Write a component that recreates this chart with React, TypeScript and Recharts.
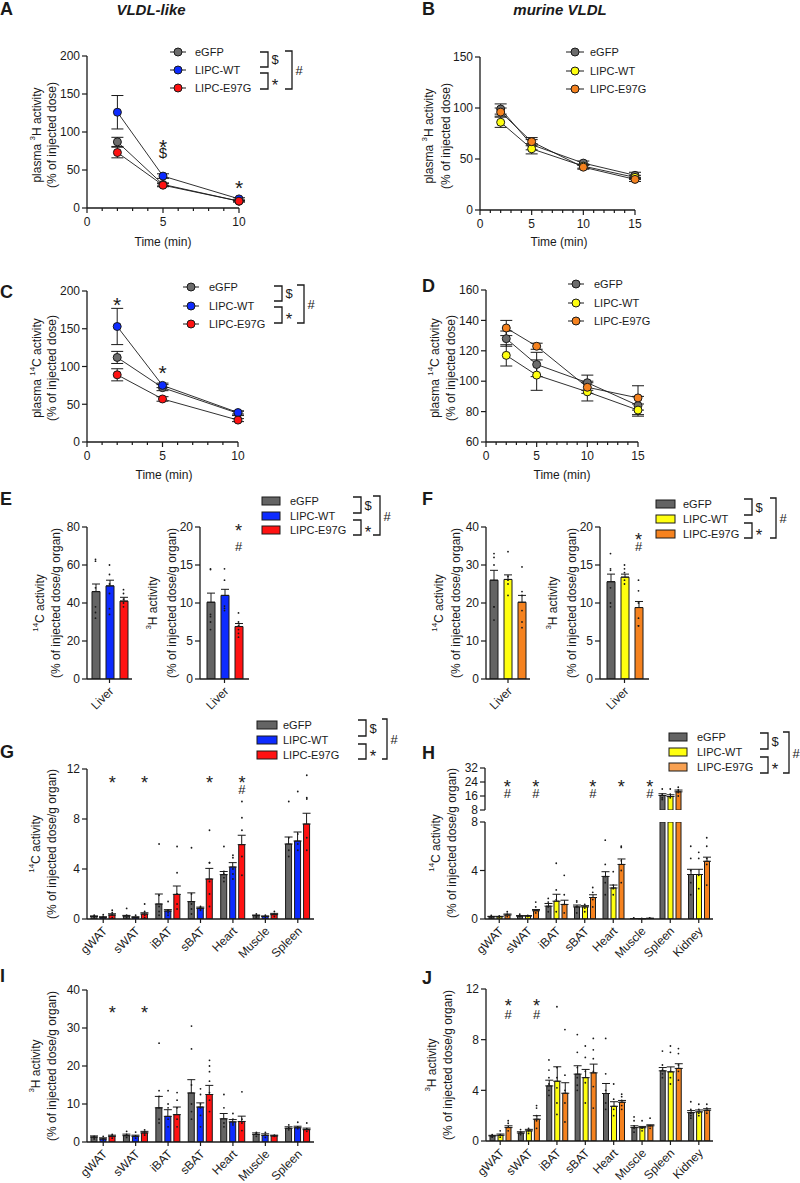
import React from 'react';
import { LineChart, Line, ComposedChart, Bar, Scatter, XAxis, YAxis, ErrorBar, ReferenceDot } from 'recharts';

const FONT = '"Liberation Sans", Arial, Helvetica, sans-serif';
const INK = '#1a1a1a';

const GREY = '#646464';
const GREY_MARK = '#6c6c6c';
const BLUE = '#0d2bff';
const RED = '#ff1212';
const YELLOW = '#ffff10';
const ORANGE = '#f5821f';
const ORANGE_KEY = '#f8a152';

const groups = ['eGFP', 'LIPC-WT', 'LIPC-E97G'];

// A - VLDL-like, plasma 3H
const timesA = [2, 5, 10];
const aEGFP = [87, 31, 9];
const aEGFPErr = [6, 2, 1];
const aWT = [126, 42, 12];
const aWTErr = [22, 3, 1.5];
const aE97G = [73, 30, 9];
const aE97GErr = [7, 2, 1];

// B - murine VLDL, plasma 3H
const timesB = [2, 5, 10, 15];
const bEGFP = [99, 64, 46, 34];
const bEGFPErr = [5, 5, 2, 3];
const bWT = [86, 60, 43, 32];
const bWTErr = [5, 5, 2, 2];
const bE97G = [96, 67, 42, 30];
const bE97GErr = [4, 4, 2, 2];

// C - VLDL-like, plasma 14C
const cEGFP = [112, 72, 38];
const cEGFPErr = [8, 4, 3];
const cWT = [153, 75, 39];
const cWTErr = [24, 3, 2];
const cE97G = [89, 57, 29];
const cE97GErr = [8, 3, 2];

// D - murine VLDL, plasma 14C
const dEGFP = [128, 111, 99, 84];
const dEGFPErr = [5, 8, 5, 6];
const dWT = [117, 104, 93, 81];
const dWTErr = [7, 10, 6, 4];
const dE97G = [135, 123, 96, 89];
const dE97GErr = [5, 2, 4, 8];

// E / F - liver uptake (mean, sem, individual animals)
const liver = ['Liver'];
const e14C = [46, 49, 41];
const e14CErr = [4, 3, 2];
const e14CPts = [[63, 62, 48, 38, 35, 32], [60, 55, 50, 45, 37, 34], [47, 45, 42, 40, 38]];
const e3H = [10.1, 11.0, 6.9];
const e3HErr = [1.2, 0.8, 0.4];
const e3HPts = [[14.5, 14.4, 8.5, 8.2, 7.5, 6.5], [14.5, 13, 9.6, 9.3, 9.0], [8.7, 7.5, 7, 6.5, 6, 5.5]];
const f14C = [26, 26.2, 20.2];
const f14CErr = [2.6, 1.2, 1.8];
const f14CPts = [[33, 32, 30, 19, 19, 15.5], [33.5, 27, 26, 25, 22], [29.5, 23, 22, 18, 15, 13.5]];
const f3H = [12.8, 13.4, 9.4];
const f3HErr = [1.0, 0.4, 0.8];
const f3HPts = [[16.5, 14.5, 14.3, 12, 10, 9.5], [15, 14.5, 14, 13, 12.5], [13, 11.6, 10, 8, 7, 7]];

// G / I - VLDL-like organs
const organs7 = ['gWAT', 'sWAT', 'iBAT', 'sBAT', 'Heart', 'Muscle', 'Spleen'];
const gEGFP = [0.2, 0.24, 1.2, 1.39, 3.55, 0.27, 6.0];
const gEGFPErr = [0.05, 0.05, 0.8, 0.7, 0.25, 0.05, 0.56];
const gEGFPPts = [[0.3, 0.2, 0.1], [0.85, 0.3, 0.1], [6.0, 1.9, 1.0, 0.6, 0.3], [5.7, 2.0, 1.2, 0.8, 0.4], [5.8, 3.8, 3.6, 3.3, 3.0], [0.4, 0.2, 0.1], [9.4, 6.5, 5.5, 5.0]];
const gWT = [0.13, 0.13, 0.64, 0.85, 4.16, 0.2, 6.24];
const gWTErr = [0.05, 0.05, 0.11, 0.1, 0.35, 0.05, 0.72];
const gWTPts = [[0.35, 0.2, 0.05], [0.3, 0.1], [1.4, 0.7, 0.5, 0.3], [1.0, 0.9, 0.8, 0.7], [5.1, 4.9, 4.0, 3.6, 3.2], [0.3, 0.1], [10.2, 6.8, 6.0, 5.5]];
const gE97G = [0.32, 0.4, 1.97, 3.2, 5.95, 0.35, 7.6];
const gE97GErr = [0.1, 0.1, 0.67, 0.85, 0.75, 0.1, 0.86];
const gE97GPts = [[0.7, 0.5, 0.3, 0.1], [1.2, 0.6, 0.3, 0.1], [5.8, 3.7, 2.0, 1.2, 0.8], [7.1, 4.5, 4.5, 3.0, 2.0, 1.0], [9.4, 8.1, 7.1, 5.0, 3.5], [0.6, 0.4, 0.2], [11.5, 9.7, 9.6, 6.5, 5.5]];

const iEGFP = [1.3, 1.67, 9.0, 12.9, 6.1, 2.0, 3.6];
const iEGFPErr = [0.3, 0.4, 3.0, 3.5, 1.4, 0.4, 0.4];
const iEGFPPts = [[1.5, 1.2, 0.8], [2.8, 2.0, 1.2], [26, 13.5, 12, 9, 6, 5], [30.5, 24.5, 15, 10, 8, 6], [12.5, 9, 5, 4], [2.5, 2.2, 1.5], [4.5, 3.8, 3.2]];
const iWT = [0.8, 1.5, 6.75, 9.2, 5.3, 1.75, 3.75];
const iWTErr = [0.3, 0.3, 1.75, 1.1, 0.6, 0.4, 0.4];
const iWTPts = [[1.5, 0.8, 0.5], [2.6, 1.6, 1.0], [13.5, 10, 9, 6, 4], [14, 12.5, 10, 9, 7, 4], [7.5, 6, 5, 4.5], [2.5, 1.8, 1.2], [5.2, 4, 3.5]];
const iE97G = [1.5, 2.4, 7.2, 12.5, 5.4, 1.6, 3.25];
const iE97GErr = [0.3, 0.4, 2.0, 2.4, 1.4, 0.2, 0.4];
const iE97GPts = [[2.0, 1.5, 1.0], [3.2, 2.8, 2.2, 1.8], [13, 11, 9, 6, 4], [21.5, 20, 18.5, 16, 13, 11, 8], [13.2, 6, 5, 3], [1.8, 1.5], [5, 3.5, 2.8]];

// H / J - murine VLDL organs
const organs8 = ['gWAT', 'sWAT', 'iBAT', 'sBAT', 'Heart', 'Muscle', 'Spleen', 'Kidney'];
const hEGFP = [0.19, 0.24, 1.06, 1.0, 3.51, 0.03, 16.3, 3.67];
const hEGFPErr = [0.03, 0.04, 0.22, 0.15, 0.39, 0.01, 1.0, 0.43];
const hEGFPPts = [[0.3, 0.2, 0.1], [0.4, 0.2], [1.7, 1.4, 1.0, 0.6], [1.5, 1.4, 1.0, 0.5], [6.5, 4.5, 3.5, 3.0, 2.0], [0.1, 0.05], [20, 17, 15, 14], [6.0, 5.0, 4.0, 3.0, 2.0]];
const hWT = [0.19, 0.24, 1.47, 1.0, 2.56, 0.02, 15.7, 3.67];
const hWTErr = [0.03, 0.04, 0.57, 0.1, 0.24, 0.01, 1.0, 0.43];
const hWTPts = [[0.25, 0.15], [0.3, 0.2], [4.6, 2.4, 1.6, 0.6], [1.2, 0.9, 0.6], [3.9, 2.8, 2.5, 2.0], [0.05], [20, 17, 15], [5.5, 5.0, 3.6, 2.5]];
const hE97G = [0.33, 0.68, 1.2, 1.77, 4.5, 0.05, 18.4, 4.76];
const hE97GErr = [0.08, 0.1, 0.35, 0.23, 0.45, 0.01, 1.0, 0.34];
const hE97GPts = [[0.6, 0.4, 0.2], [1.4, 1.0, 0.5], [3.6, 2.0, 1.2, 0.5], [2.6, 2.2, 1.6, 1.0], [6.0, 5.9, 4.8, 4.0, 3.0], [0.1], [21, 19.5, 18, 16], [6.7, 6.0, 5.0, 4.5, 2.8]];
const H_BREAK = 8;

const jEGFP = [0.4, 0.63, 4.35, 5.28, 3.75, 1.06, 5.54, 2.24];
const jEGFPErr = [0.05, 0.1, 0.45, 0.66, 0.79, 0.14, 0.26, 0.16];
const jEGFPPts = [[0.5, 0.4, 0.3], [0.9, 0.7, 0.5], [6.4, 5.6, 5.0, 4.5, 4.0, 3.6], [8.4, 7.0, 5.8, 5.0, 4.4, 4.0], [8.1, 5.3, 4.0, 3.0, 2.5], [1.9, 1.6, 1.2, 1.0, 0.7], [7.1, 6.0, 5.6, 5.3, 5.0], [3.1, 2.5, 2.2, 2.0, 1.8]];
const jWT = [0.45, 0.8, 4.72, 5.0, 2.74, 1.05, 5.46, 2.3];
const jWTErr = [0.1, 0.12, 1.14, 0.65, 0.36, 0.1, 0.39, 0.15];
const jWTPts = [[0.8, 0.5, 0.3], [1.0, 0.8, 0.6], [10.6, 5.8, 5.0, 4.2, 3.0, 2.1], [7.5, 6.6, 5.5, 4.6, 3.0], [4.5, 3.3, 2.5, 2.0], [1.6, 1.0, 0.8], [7.5, 7.0, 5.5, 5.0, 4.5], [2.9, 2.5, 2.2, 2.0]];
const jE97G = [1.06, 1.72, 3.77, 5.38, 3.06, 1.2, 5.73, 2.43];
const jE97GErr = [0.14, 0.28, 0.83, 0.69, 0.14, 0.08, 0.37, 0.12];
const jE97GPts = [[1.6, 1.4, 1.1, 0.8], [2.8, 2.6, 2.0, 1.6, 1.0], [8.8, 5.2, 4.0, 3.0, 1.5], [8.1, 7.2, 6.5, 5.5, 4.3, 2.6], [3.7, 3.5, 3.2, 2.8, 2.5], [1.8, 1.2, 1.0], [7.3, 6.9, 6.0, 5.5, 4.8], [2.9, 2.6, 2.4, 2.2]];

// significance marks (category / time, level)
const aMarks = [{ x: 5, y: 87, text: '*' }, { x: 5, y: 73, text: '$' }, { x: 10, y: 34, text: '*' }];
const cMarks = [{ x: 2, y: 189, text: '*' }, { x: 5, y: 99, text: '*' }];
const eMarks = [{ x: 'Liver', y: 20.1, text: '*' }, { x: 'Liver', y: 17.5, text: '#' }];
const fMarks = [{ x: 'Liver', y: 18.9, text: '*' }, { x: 'Liver', y: 17.4, text: '#' }];
const gStar = ['gWAT', 'sWAT', 'sBAT', 'Heart'];
const gHash = ['Heart'];
const hStar = ['gWAT', 'sWAT', 'sBAT', 'Heart', 'Muscle'];
const hHash = ['gWAT', 'sWAT', 'sBAT', 'Muscle'];
const iStar = ['gWAT', 'sWAT'];
const jStar = ['gWAT', 'sWAT'];
const jHash = ['gWAT', 'sWAT'];

const AXIS = { stroke: INK, strokeWidth: 1.3 };
const TICK = { stroke: INK, strokeWidth: 1.2 };
const TICK_TEXT = { fill: INK, fontSize: 12, fontFamily: FONT };

const SYM_SHIFT: Record<string, number> = { '*': 0.6, '#': 0.36, '$': 0.36 };

type Mark = { x: number | string; y: number; text: string };
type Series = { color: string; values: (number | null)[]; errors: (number | null)[]; pts?: number[][] };

const SymText = ({ cx, cy, text, size }: { cx: number; cy: number; text: string; size: number }) => {
  const fs = text === '*' ? size * 1.4 : size;
  return (
    <text x={cx} y={cy + SYM_SHIFT[text] * fs} textAnchor="middle" fontSize={fs} fontFamily={FONT} fill={INK}>
      {text}
    </text>
  );
};

const symDot = (m: Mark, dx: number, size: number, key: number) => (
  <ReferenceDot
    key={'m' + key}
    x={m.x}
    y={m.y}
    r={0}
    ifOverflow="visible"
    shape={(p: any) => <SymText cx={p.cx + dx} cy={p.cy} text={m.text} size={size} />}
  />
);

const TimeTick = (p: any) => {
  const major = p.majors.includes(p.payload.value);
  return (
    <g>
      <line x1={p.x} x2={p.x} y1={p.y} y2={p.y + (major ? 5 : 3)} stroke={INK} strokeWidth={1.2} />
      {major && (
        <text x={p.x} y={p.y + 14} textAnchor="middle" dominantBaseline="central" fontSize={12} fontFamily={FONT} fill={INK}>
          {p.payload.value}
        </text>
      )}
    </g>
  );
};

const OrganTick = (p: any) => (
  <text
    x={p.x + 2}
    y={p.y + 4}
    transform={`rotate(-45 ${p.x + 2} ${p.y + 4})`}
    textAnchor="end"
    dominantBaseline="central"
    fontSize={12}
    fontFamily={FONT}
    fill={INK}
  >
    {p.payload.value}
  </text>
);

function LinePanel(props: {
  left: number; top: number; w: number; h: number; times: number[]; xMax: number; majors: number[];
  yDomain: [number, number]; yTicks: number[]; series: Series[]; marks?: Mark[];
}) {
  const { left, top, w, h, times, xMax, majors, yDomain, yTicks, series, marks = [] } = props;
  const padL = 40, padT = 16, padR = 12, padB = 24;
  const rows = times.map((t, i) => {
    const row: Record<string, any> = { t };
    series.forEach((s, k) => {
      row['v' + k] = s.values[i];
      row['e' + k] = s.errors[i];
    });
    return row;
  });
  const xTicks = Array.from({ length: xMax + 1 }, (_, i) => i);
  return (
    <div style={{ position: 'absolute', left: left - padL, top: top - padT }}>
      <LineChart width={w + padL + padR} height={h + padT + padB} data={rows} margin={{ top: padT, right: padR, bottom: 0, left: 0 }}>
        <XAxis type="number" dataKey="t" domain={[0, xMax]} ticks={xTicks} interval={0} height={padB}
          tickSize={0} tickMargin={0} tickLine={false} axisLine={AXIS} tick={(p: any) => <TimeTick {...p} majors={majors} />} />
        <YAxis type="number" domain={yDomain} ticks={yTicks} interval={0} width={padL} tickSize={5} tickMargin={2}
          axisLine={AXIS} tickLine={TICK} tick={TICK_TEXT} />
        {series.map((s, k) => (
          <Line key={k} dataKey={'v' + k} stroke={INK} strokeWidth={0.9} isAnimationActive={false} activeDot={false}
            dot={{ r: 4, fill: s.color, stroke: INK, strokeWidth: 1 }}>
            <ErrorBar dataKey={'e' + k} direction="y" width={6} stroke={INK} strokeWidth={1} />
          </Line>
        ))}
        {marks.map((m, i) => symDot(m, 0, 15, i))}
      </LineChart>
    </div>
  );
}

function BarPanel(props: {
  left: number; top: number; w: number; h: number; cats: string[]; series: Series[];
  yDomain: [number, number]; yTicks: number[]; barSize: number; barGap: number;
  marks?: Mark[]; markDx?: number; showX?: boolean;
}) {
  const { left, top, w, h, cats, series, yDomain, yTicks, barSize, barGap, marks = [], markDx = 0, showX = true } = props;
  const padL = 40, padT = 14, padR = 6;
  const padB = showX ? 52 : 0;
  const padBottom = showX ? 0 : 8;
  const step = barSize + barGap;
  const rows = cats.map((c, i) => {
    const row: Record<string, any> = { cat: c };
    series.forEach((s, k) => {
      row['v' + k] = s.values[i];
      const e = s.errors[i];
      row['e' + k] = e == null ? null : [0, e];
    });
    return row;
  });
  return (
    <div style={{ position: 'absolute', left: left - padL, top: top - padT }}>
      <ComposedChart width={w + padL + padR} height={h + padT + padB + padBottom} data={rows} barSize={barSize} barGap={barGap}
        margin={{ top: padT, right: padR, bottom: padBottom, left: 0 }}>
        <XAxis dataKey="cat" type="category" allowDuplicatedCategory={false} hide={!showX} height={padB} interval={0}
          tickSize={4} tickMargin={2} axisLine={AXIS} tickLine={TICK} tick={(p: any) => <OrganTick {...p} />} />
        <YAxis type="number" domain={yDomain} ticks={yTicks} interval={0} allowDataOverflow width={padL}
          tickSize={5} tickMargin={2} axisLine={AXIS} tickLine={TICK} tick={TICK_TEXT} />
        {series.map((s, k) => (
          <Bar key={k} dataKey={'v' + k} fill={s.color} stroke={INK} strokeWidth={1} isAnimationActive={false}>
            <ErrorBar dataKey={'e' + k} direction="y" width={4} stroke={INK} strokeWidth={1} />
          </Bar>
        ))}
        {series.map((s, k) => {
          const dots = (s.pts || []).flatMap((list, i) =>
            list.filter((v) => v >= yDomain[0] && v <= yDomain[1]).map((v) => ({ cat: cats[i], p: v })));
          if (!dots.length) return null;
          const dx = (k - (series.length - 1) / 2) * step;
          return (
            <Scatter key={'s' + k} data={dots} dataKey="p" isAnimationActive={false}
              shape={(p: any) => <circle cx={p.cx + dx} cy={p.cy} r={0.9} fill={INK} />} />
          );
        })}
        {marks.map((m, i) => symDot(m, markDx, 13, i))}
      </ComposedChart>
    </div>
  );
}

const VText = ({ x, y, pre = '', sup, post }: { x: number; y: number; pre?: string; sup?: string; post: string }) => (
  <text x={x} y={y} transform={`rotate(-90 ${x} ${y})`} textAnchor="middle" dominantBaseline="central"
    fontSize={12} fontFamily={FONT} fill={INK}>
    {pre}
    {sup && <tspan fontSize={8} dy={-5}>{sup}</tspan>}
    {sup ? <tspan dy={5}>{post}</tspan> : post}
  </text>
);

const T = ({ x, y, children, size = 11, anchor = 'start', weight = 'normal', italic = false }: any) => (
  <text x={x} y={y} textAnchor={anchor} dominantBaseline="central" fontSize={size} fontFamily={FONT}
    fontWeight={weight} fontStyle={italic ? 'italic' : 'normal'} fill={INK}>
    {children}
  </text>
);

const LineKey = ({ x0, x1, cx, tx, ys, colors }: { x0: number; x1: number; cx: number; tx: number; ys: number[]; colors: string[] }) => (
  <g>
    {ys.map((y, i) => (
      <g key={i}>
        <line x1={x0} x2={x1} y1={y} y2={y} stroke={INK} strokeWidth={1} />
        <circle cx={cx} cy={y} r={4} fill={colors[i]} stroke={INK} strokeWidth={1} />
        <T x={tx} y={y}>{groups[i]}</T>
      </g>
    ))}
  </g>
);

const BarKey = ({ x, w, tx, ys, colors }: { x: number; w: number; tx: number; ys: number[]; colors: string[] }) => (
  <g>
    {ys.map((y, i) => (
      <g key={i}>
        <rect x={x} y={y - 4} width={w} height={8} fill={colors[i]} stroke={INK} strokeWidth={1} />
        <T x={tx} y={y}>{groups[i]}</T>
      </g>
    ))}
  </g>
);

const Brackets = ({ xl, xv, y1, y2, y3, y4, ol, ov }: { xl: number; xv: number; y1: number; y2: number; y3: number; y4: number; ol: number; ov: number }) => (
  <g fill="none" stroke={INK} strokeWidth={1.3}>
    <path d={`M${xl} ${y1}H${xv}V${y2}H${xl}`} />
    <path d={`M${xl} ${y3}H${xv}V${y4}H${xl}`} />
    <path d={`M${ol} ${y1 - 1}H${ov}V${y4}H${ol}`} />
    <g stroke="none">
      <SymText cx={xv + 7} cy={(y1 + y2) / 2} text="$" size={13} />
      <SymText cx={xv + 7} cy={(y3 + y4) / 2} text="*" size={12} />
      <SymText cx={ov + 7} cy={(y1 + y4) / 2} text="#" size={13} />
    </g>
  </g>
);

const onCats = (cats: string[], y: number, text: string): Mark[] => cats.map((c) => ({ x: c, y, text }));

export default function App() {
  const lineA: Series[] = [
    { color: GREY_MARK, values: aEGFP, errors: aEGFPErr },
    { color: BLUE, values: aWT, errors: aWTErr },
    { color: RED, values: aE97G, errors: aE97GErr },
  ];
  const lineB: Series[] = [
    { color: GREY_MARK, values: bEGFP, errors: bEGFPErr },
    { color: YELLOW, values: bWT, errors: bWTErr },
    { color: ORANGE, values: bE97G, errors: bE97GErr },
  ];
  const lineC: Series[] = [
    { color: GREY_MARK, values: cEGFP, errors: cEGFPErr },
    { color: BLUE, values: cWT, errors: cWTErr },
    { color: RED, values: cE97G, errors: cE97GErr },
  ];
  const lineD: Series[] = [
    { color: GREY_MARK, values: dEGFP, errors: dEGFPErr },
    { color: YELLOW, values: dWT, errors: dWTErr },
    { color: ORANGE, values: dE97G, errors: dE97GErr },
  ];
  const each = (vals: number[], errs: number[], pts: number[][], colors: string[]): Series[] =>
    colors.map((c, k) => ({ color: c, values: [vals[k]], errors: [errs[k]], pts: [pts[k]] }));
  const hLower = (vals: number[], errs: number[], pts: number[][], color: string): Series => ({
    color,
    values: vals.map((v) => Math.min(v, H_BREAK)),
    errors: vals.map((v, i) => (v > H_BREAK ? null : errs[i])),
    pts: pts.map((list, i) => (vals[i] > H_BREAK ? [] : list)),
  });
  const hUpper = (vals: number[], errs: number[], pts: number[][], color: string): Series => ({
    color,
    values: vals.map((v) => (v > H_BREAK ? v : null)),
    errors: vals.map((v, i) => (v > H_BREAK ? errs[i] : null)),
    pts: pts.map((list, i) => (vals[i] > H_BREAK ? list : [])),
  });

  const blueSet = [GREY, BLUE, RED];
  const yellowSet = [GREY, YELLOW, ORANGE];

  return (
    <div style={{ position: 'absolute', left: 0, top: 0, width: 800, height: 1183, background: '#fff', fontFamily: FONT }}>
      <LinePanel left={87} top={56} w={152} h={152} times={timesA} xMax={10} majors={[0, 5, 10]}
        yDomain={[0, 200]} yTicks={[0, 50, 100, 150, 200]} series={lineA} marks={aMarks} />
      <LinePanel left={480} top={57} w={155} h={153} times={timesB} xMax={15} majors={[0, 5, 10, 15]}
        yDomain={[0, 150]} yTicks={[0, 50, 100, 150]} series={lineB} />
      <LinePanel left={87} top={291} w={151} h={151} times={timesA} xMax={10} majors={[0, 5, 10]}
        yDomain={[0, 200]} yTicks={[0, 50, 100, 150, 200]} series={lineC} marks={cMarks} />
      <LinePanel left={486} top={290} w={152} h={152} times={timesB} xMax={15} majors={[0, 5, 10, 15]}
        yDomain={[60, 160]} yTicks={[60, 80, 100, 120, 140, 160]} series={lineD} />

      <BarPanel left={87} top={527} w={45} h={152} cats={liver} series={each(e14C, e14CErr, e14CPts, blueSet)}
        yDomain={[0, 80]} yTicks={[0, 20, 40, 60, 80]} barSize={8} barGap={6} />
      <BarPanel left={200} top={527} w={49} h={152} cats={liver} series={each(e3H, e3HErr, e3HPts, blueSet)}
        yDomain={[0, 20]} yTicks={[0, 5, 10, 15, 20]} barSize={8} barGap={6} marks={eMarks} markDx={14} />
      <BarPanel left={486} top={527} w={44} h={152} cats={liver} series={each(f14C, f14CErr, f14CPts, yellowSet)}
        yDomain={[0, 40]} yTicks={[0, 10, 20, 30, 40]} barSize={8} barGap={6} />
      <BarPanel left={600} top={527} w={49} h={152} cats={liver} series={each(f3H, f3HErr, f3HPts, yellowSet)}
        yDomain={[0, 20]} yTicks={[0, 5, 10, 15, 20]} barSize={8} barGap={6} marks={fMarks} markDx={14} />

      <BarPanel left={87} top={769} w={227} h={150} cats={organs7}
        series={[
          { color: GREY, values: gEGFP, errors: gEGFPErr, pts: gEGFPPts },
          { color: BLUE, values: gWT, errors: gWTErr, pts: gWTPts },
          { color: RED, values: gE97G, errors: gE97GErr, pts: gE97GPts },
        ]}
        yDomain={[0, 12]} yTicks={[0, 4, 8, 12]} barSize={6} barGap={3} markDx={9}
        marks={[...onCats(gStar, 11.3, '*'), ...onCats(gHash, 10.4, '#')]} />

      <BarPanel left={485} top={768} w={228} h={42} cats={organs8} showX={false}
        series={[hUpper(hEGFP, hEGFPErr, hEGFPPts, GREY), hUpper(hWT, hWTErr, hWTPts, YELLOW), hUpper(hE97G, hE97GErr, hE97GPts, ORANGE)]}
        yDomain={[8, 32]} yTicks={[8, 16, 24, 32]} barSize={5} barGap={3} markDx={8}
        marks={[...onCats(hStar, 24, '*'), ...onCats(hHash, 17.5, '#')]} />
      <BarPanel left={485} top={822} w={228} h={97} cats={organs8}
        series={[hLower(hEGFP, hEGFPErr, hEGFPPts, GREY), hLower(hWT, hWTErr, hWTPts, YELLOW), hLower(hE97G, hE97GErr, hE97GPts, ORANGE)]}
        yDomain={[0, H_BREAK]} yTicks={[0, 4, 8]} barSize={5} barGap={3} />

      <BarPanel left={87} top={990} w={227} h={152} cats={organs7}
        series={[
          { color: GREY, values: iEGFP, errors: iEGFPErr, pts: iEGFPPts },
          { color: BLUE, values: iWT, errors: iWTErr, pts: iWTPts },
          { color: RED, values: iE97G, errors: iE97GErr, pts: iE97GPts },
        ]}
        yDomain={[0, 40]} yTicks={[0, 10, 20, 30, 40]} barSize={6} barGap={3} markDx={9}
        marks={onCats(iStar, 35.3, '*')} />
      <BarPanel left={486} top={989} w={227} h={152} cats={organs8}
        series={[
          { color: GREY, values: jEGFP, errors: jEGFPErr, pts: jEGFPPts },
          { color: YELLOW, values: jWT, errors: jWTErr, pts: jWTPts },
          { color: ORANGE, values: jE97G, errors: jE97GErr, pts: jE97GPts },
        ]}
        yDomain={[0, 12]} yTicks={[0, 4, 8, 12]} barSize={5} barGap={3} markDx={8}
        marks={[...onCats(jStar, 11.05, '*'), ...onCats(jHash, 10.0, '#')]} />

      <svg width={800} height={1183} style={{ position: 'absolute', left: 0, top: 0, pointerEvents: 'none' }}>
        {/* panel letters and titles */}
        <T x={0} y={9} size={18} weight="bold">A</T>
        <T x={151} y={9} size={15} weight="bold" italic anchor="middle">VLDL-like</T>
        <T x={422} y={9} size={18} weight="bold">B</T>
        <T x={560} y={9} size={15} weight="bold" italic anchor="middle">murine VLDL</T>
        <T x={0} y={292} size={18} weight="bold">C</T>
        <T x={422} y={286} size={18} weight="bold">D</T>
        <T x={0} y={499} size={18} weight="bold">E</T>
        <T x={422} y={499} size={18} weight="bold">F</T>
        <T x={0} y={752} size={18} weight="bold">G</T>
        <T x={422} y={753} size={18} weight="bold">H</T>
        <T x={0} y={976} size={18} weight="bold">I</T>
        <T x={422} y={978} size={18} weight="bold">J</T>

        {/* time axis titles */}
        <T x={163} y={242} size={12} anchor="middle">Time (min)</T>
        <T x={559} y={242} size={12} anchor="middle">Time (min)</T>
        <T x={164} y={475} size={12} anchor="middle">Time (min)</T>
        <T x={562} y={475} size={12} anchor="middle">Time (min)</T>

        {/* y axis titles */}
        <VText x={37} y={135} pre="plasma " sup="3" post="H activity" />
        <VText x={52} y={135} post="(% of injected dose)" />
        <VText x={429} y={136} pre="plasma " sup="3" post="H activity" />
        <VText x={446} y={136} post="(% of injected dose)" />
        <VText x={37} y={368} pre="plasma " sup="14" post="C activity" />
        <VText x={52} y={368} post="(% of injected dose)" />
        <VText x={435} y={368} pre="plasma " sup="14" post="C activity" />
        <VText x={451} y={368} post="(% of injected dose)" />

        <VText x={40} y={603} sup="14" post="C activity" />
        <VText x={56} y={603} post="(% of injected dose/g organ)" />
        <VText x={153} y={603} sup="3" post="H activity" />
        <VText x={172} y={603} post="(% of injected dose/g organ)" />
        <VText x={439} y={603} sup="14" post="C activity" />
        <VText x={456} y={603} post="(% of injected dose/g organ)" />
        <VText x={553} y={603} sup="3" post="H activity" />
        <VText x={572} y={603} post="(% of injected dose/g organ)" />

        <VText x={36} y={844} sup="14" post="C activity" />
        <VText x={52} y={844} post="(% of injected dose/g organ)" />
        <VText x={436} y={843} sup="14" post="C activity" />
        <VText x={452} y={843} post="(% of injected dose/g organ)" />
        <VText x={36} y={1066} sup="3" post="H activity" />
        <VText x={52} y={1066} post="(% of injected dose/g organ)" />
        <VText x={432} y={1065} sup="3" post="H activity" />
        <VText x={448} y={1065} post="(% of injected dose/g organ)" />

        {/* legends */}
        <LineKey x0={170} x1={186} cx={178} tx={195} ys={[52, 70, 88]} colors={[GREY_MARK, BLUE, RED]} />
        <Brackets xl={260} xv={268} y1={52} y2={67} y3={73} y4={89} ol={285} ov={292} />
        <LineKey x0={566} x1={584} cx={575} tx={590} ys={[52, 71, 89]} colors={[GREY_MARK, YELLOW, ORANGE]} />
        <LineKey x0={183} x1={199} cx={191} tx={209} ys={[287, 306, 324]} colors={[GREY_MARK, BLUE, RED]} />
        <Brackets xl={274} xv={282} y1={286} y2={301} y3={307} y4={323} ol={297} ov={304} />
        <LineKey x0={568} x1={584} cx={576} tx={594} ys={[284, 303, 321]} colors={[GREY_MARK, YELLOW, ORANGE]} />

        <BarKey x={262} w={18} tx={290} ys={[501, 516, 530]} colors={blueSet} />
        <Brackets xl={353} xv={361} y1={497} y2={513} y3={520} y4={535} ol={373} ov={380} />
        <BarKey x={656} w={19} tx={683} ys={[504, 519, 534]} colors={yellowSet} />
        <Brackets xl={744} xv={752} y1={499} y2={515} y3={523} y4={538} ol={770} ov={776} />
        <BarKey x={257} w={20} tx={283} ys={[725, 740, 755]} colors={blueSet} />
        <Brackets xl={358} xv={366} y1={720} y2={736} y3={744} y4={759} ol={382} ov={387} />
        <BarKey x={669} w={18} tx={697} ys={[737, 752, 767]} colors={[GREY, YELLOW, ORANGE_KEY]} />
        <Brackets xl={760} xv={768} y1={733} y2={749} y3={757} y4={773} ol={783} ov={789} />
      </svg>
    </div>
  );
}
